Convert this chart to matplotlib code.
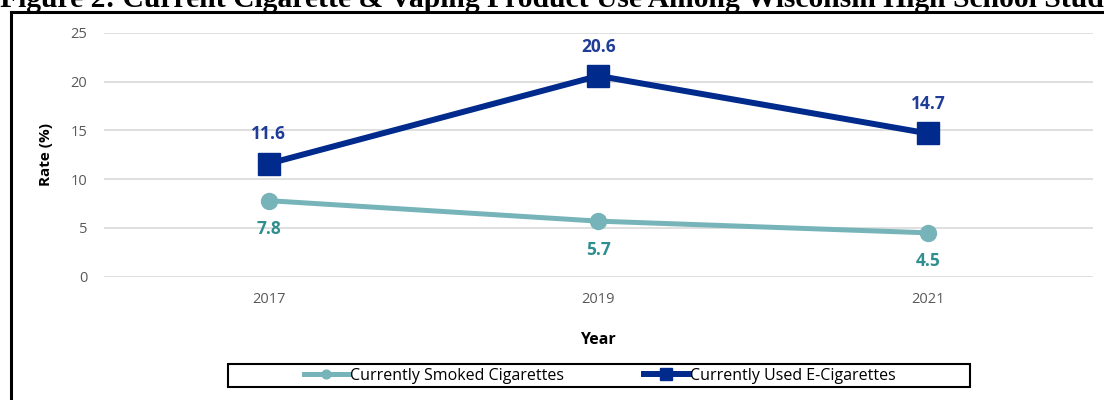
import matplotlib
matplotlib.use("Agg")
import matplotlib.pyplot as plt
from matplotlib.lines import Line2D
from matplotlib.patches import Rectangle

# Data
years = ["2017", "2019", "2021"]
smoked = [7.8, 5.7, 4.5]
ecig = [11.6, 20.6, 14.7]
y_ticks = [0, 5, 10, 15, 20, 25]

title = "Figure 2: Current Cigarette & Vaping Product Use Among Wisconsin High School Students"

teal = "#76B4B9"
teal_txt = "#2F8E8E"
navy = "#002A8C"
navy_txt = "#1F3C98"
grey_txt = "#595959"

W, H = 1104, 400
fig = plt.figure(figsize=(W / 100, H / 100), dpi=100)

# title sits at the very top, partially clipped
fig.text(0.0, 1 - 7 / H, title, fontsize=21.3, fontweight="bold",
         family="Liberation Serif", ha="left", va="baseline")

# chart frame (left + top edges visible)
fig.add_artist(Line2D([10.5 / W, 10.5 / W], [0, 1 - 11.5 / H], color="black", lw=2.2))
fig.add_artist(Line2D([10.5 / W, 1.0], [1 - 11.5 / H, 1 - 11.5 / H], color="black", lw=2.2))

left, right = 104 / W, 1092.7 / W
top, bottom = 1 - 33 / H, 1 - 276.7 / H
ax = fig.add_axes([left, bottom, right - left, top - bottom])

x = list(range(len(years)))
ax.plot(x, smoked, color=teal, lw=3.6, marker="o", ms=11.5,
        label="Currently Smoked Cigarettes", zorder=3)
ax.plot(x, ecig, color=navy, lw=4.3, marker="s", ms=15.5,
        label="Currently Used E-Cigarettes", zorder=4)

for xi, v in zip(x, ecig):
    ax.annotate(f"{v}", (xi, v), xytext=(0, 21), textcoords="offset points",
                ha="center", va="center", fontsize=12.5, fontweight="bold",
                family="Open Sans", color=navy_txt)
for xi, v in zip(x, smoked):
    ax.annotate(f"{v}", (xi, v), xytext=(0, -20.5), textcoords="offset points",
                ha="center", va="center", fontsize=12.5, fontweight="bold",
                family="Open Sans", color=teal_txt)

ax.set_xlim(-0.5, 2.5)
ax.set_ylim(0, 25)
ax.set_yticks(y_ticks)
ax.set_xticks(x)
ax.set_xticklabels(years)
ax.grid(axis="y", color="#D9D9D9", lw=1.2)
ax.set_axisbelow(True)
for s in ax.spines.values():
    s.set_visible(False)
ax.tick_params(length=0, labelsize=10.5, labelcolor=grey_txt)
ax.tick_params(axis="y", pad=12)
ax.tick_params(axis="x", pad=11)
for lab in ax.get_xticklabels() + ax.get_yticklabels():
    lab.set_family("Open Sans")

ax.set_ylabel("Rate (%)", fontsize=11, fontweight="bold", family="Open Sans")
ax.yaxis.set_label_coords((53 - 104) / (1092.7 - 104), 0.5)
ax.set_xlabel("Year", fontsize=11.5, fontweight="bold", family="Open Sans")
ax.xaxis.set_label_coords(0.5, -(332 - 276.7) / (276.7 - 33))

# legend with its own box
fig.add_artist(Rectangle((228 / W, 1 - 387 / H), (970 - 228) / W, 23 / H,
                         fill=False, edgecolor="black", lw=1.5))
fig.legend(loc="center", bbox_to_anchor=(600 / W, 1 - 375.5 / H), ncol=2,
           frameon=False, markerscale=0.55, handlelength=2.8,
           handletextpad=0.1, columnspacing=5.0,
           prop={"family": ["Liberation Sans Narrow", "Open Sans"], "size": 11.5})

fig.savefig("out.png", dpi=100)
